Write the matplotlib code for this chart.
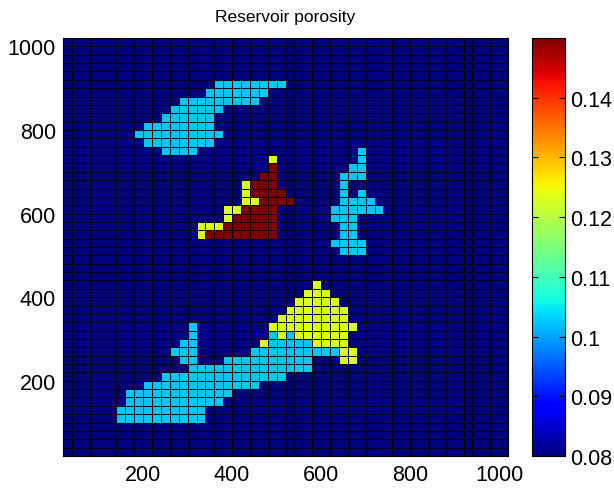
import numpy as np
import matplotlib.pyplot as plt

plt.rcParams['font.family'] = ['Liberation Sans', 'DejaVu Sans']

# 50 x 50 cells of 20 m, grid starts at 20
n_cells = 50
cell_size = 20
grid_start = 20

phi_shale = 0.08
phi_sand = 0.1025
phi_mid = 0.123
phi_high = 0.15

# (row from bottom, first col, last col)
north_sand = [(44, 17, 24), (43, 16, 22), (42, 13, 21), (41, 12, 17), (40, 11, 16),
              (39, 9, 16), (38, 8, 17), (37, 9, 16), (36, 11, 14)]

east_sand = [(36, 33, 33), (35, 33, 33), (34, 32, 33), (33, 31, 33), (32, 31, 31),
             (31, 31, 31), (31, 33, 33), (30, 31, 34), (29, 30, 35), (28, 30, 32),
             (27, 31, 32), (26, 31, 32), (25, 30, 33), (24, 31, 33)]

core_mid = [(35, 23, 23), (32, 20, 20), (31, 20, 20), (30, 20, 21), (29, 18, 19),
            (28, 18, 18), (27, 15, 17), (26, 15, 15)]

core_high = [(34, 23, 23), (33, 22, 23), (32, 21, 23), (31, 21, 24), (30, 22, 25),
             (29, 20, 23), (28, 19, 23), (27, 18, 23), (26, 16, 23)]

south_sand = [(15, 14, 14), (14, 14, 14), (14, 23, 23), (14, 25, 25), (13, 13, 14),
              (13, 23, 27), (12, 12, 14), (12, 21, 30), (11, 13, 14), (11, 18, 27),
              (10, 14, 27), (9, 11, 24), (8, 9, 21), (7, 7, 18), (6, 7, 17),
              (5, 6, 15), (4, 6, 15)]

south_mid = [(20, 28, 28), (19, 27, 29), (18, 26, 30), (17, 25, 31), (16, 24, 31),
             (15, 23, 32), (14, 24, 24), (14, 26, 31), (13, 22, 22), (13, 28, 31),
             (12, 31, 32), (11, 31, 32)]

grid = np.full((n_cells, n_cells), phi_shale)
for runs, val in [(north_sand, phi_sand), (east_sand, phi_sand), (south_sand, phi_sand),
                  (south_mid, phi_mid), (core_mid, phi_mid), (core_high, phi_high)]:
    for r, a, b in runs:
        grid[r, a:b + 1] = val

edges = grid_start + cell_size * np.arange(n_cells + 1)

fig = plt.figure(figsize=(6.14, 4.89), dpi=100)
ax = fig.add_axes([0.1026, 0.0654, 0.7248, 0.8548])
mesh = ax.pcolormesh(edges, edges, grid, cmap='jet', vmin=0.08, vmax=0.15)
# cell borders drawn once each so they come out even
ax.vlines(edges, edges[0], edges[-1], colors='k', linewidth=0.7)
ax.hlines(edges, edges[0], edges[-1], colors='k', linewidth=0.7)
ax.set_xlim(edges[0], edges[-1])
ax.set_ylim(edges[0], edges[-1])
ax.set_xticks([200, 400, 600, 800, 1000])
ax.set_yticks([200, 400, 600, 800, 1000])
ax.tick_params(direction='in', labelsize=15.5, top=True, right=True, length=3)
ax.tick_params(axis='x', pad=6)
ax.tick_params(axis='y', pad=5)
ax.set_title('Reservoir porosity', fontsize=12.5, pad=12)

cax = fig.add_axes([0.8664, 0.0654, 0.0537, 0.8548])
cb = fig.colorbar(mesh, cax=cax, ticks=[0.08, 0.09, 0.10, 0.11, 0.12, 0.13, 0.14])
cb.ax.set_yticklabels(['0.08', '0.09', '0.1', '0.11', '0.12', '0.13', '0.14'])
cb.ax.tick_params(direction='in', labelsize=15.5, left=True, right=True, length=4, pad=4)
cb.outline.set_linewidth(0.8)

fig.savefig('out.png', dpi=100)
